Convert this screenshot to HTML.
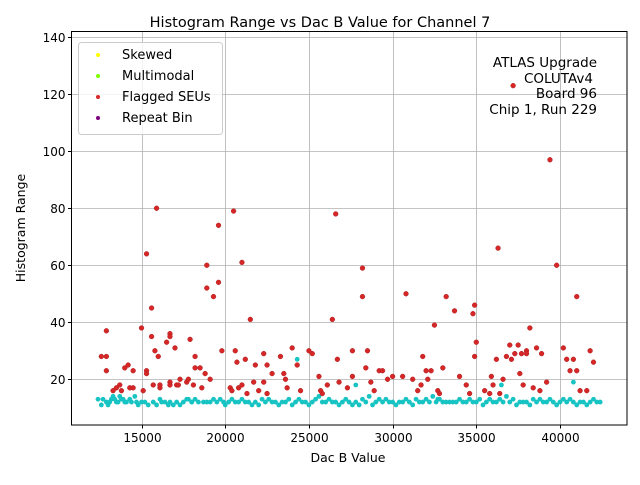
<!DOCTYPE html>
<html><head><meta charset="utf-8"><style>
body{margin:0;background:#fff}
svg{font-family:"DejaVu Sans","Liberation Sans",sans-serif}
</style></head><body>
<svg id="chart" width="640" height="480" viewBox="0 0 640 480">
<rect width="640" height="480" fill="#fff"/>
<text x="320" y="27" font-size="14.5" text-anchor="middle">Histogram Range vs Dac B Value for Channel 7</text>
<g id="grid"></g>
<g id="pts"></g>
<rect x="71.5" y="31.5" width="555.5" height="393.5" fill="none" stroke="#000" stroke-width="1"/>
<g id="ticks"></g>
<text x="348" y="462" font-size="12.5" text-anchor="middle">Dac B Value</text>
<text transform="translate(25,228) rotate(-90)" font-size="12.5" text-anchor="middle">Histogram Range</text>
<g>
<rect x="78.5" y="42.5" width="144" height="92" rx="3" fill="#fff" fill-opacity="0.8" stroke="#ccc"/>
<g><circle cx="98" cy="55" r="2" fill="#ffff00"/><text x="122" y="59" font-size="13">Skewed</text></g>
<g><circle cx="98" cy="76" r="2" fill="#7fff00"/><text x="122" y="80" font-size="13">Multimodal</text></g>
<g><circle cx="98" cy="97" r="2" fill="#d62728"/><text x="122" y="101" font-size="13">Flagged SEUs</text></g>
<g><circle cx="98" cy="118" r="2" fill="#800080"/><text x="122" y="122" font-size="13">Repeat Bin</text></g>
</g>
<g font-size="13.5" text-anchor="end">
<text x="597" y="67">ATLAS Upgrade</text>
<text x="593" y="83">COLUTAv4</text>
<text x="597" y="98">Board 96</text>
<text x="597" y="114">Chip 1, Run 229</text>
</g>
</svg>
<script>
const xTicks=[15000,20000,25000,30000,35000,40000];
const yTicks=[20,40,60,80,100,120,140];
const seuX=[12600,12900,12900,12900,13300,13500,13700,13800,14000,14200,14300,14500,14500,15000,15100,15300,15300,15300,15600,15600,15700,15800,15900,16000,16100,16100,16500,16700,16700,16700,16700,17000,17100,17200,17300,17700,17800,17900,18100,18200,18200,18500,18600,18800,18900,18900,19100,19300,19600,19600,19800,20300,20400,20500,20600,20700,20800,21000,21000,21200,21300,21500,21700,21800,22000,22300,22300,22500,22500,22800,23300,23500,23600,23700,24000,24300,24500,25000,25200,25600,25700,25800,26100,26400,26600,26700,26800,27300,27600,27600,28200,28200,28400,28500,28700,28900,29200,29400,29700,30000,30600,30800,31200,31500,31700,31800,32000,32100,32300,32500,32700,32800,33000,33200,33700,34000,34400,34800,34900,34900,35000,35500,35800,35900,36000,36200,36300,36600,36800,37000,37100,37200,37300,37500,37600,37700,37800,38000,38000,38200,38400,38600,38800,38900,39200,39400,39800,40200,40400,40600,40800,41000,41000,41600,41800,42000,34600,36400,41200];
const seuY=[28,28,37,23,16,17,18,16,24,25,17,17,23,38,16,64,23,22,35,45,18,30,80,28,17,18,33,36,35,19,18,31,18,18,20,19,20,34,18,28,24,24,17,22,60,52,20,49,74,54,30,17,16,79,30,26,17,61,18,27,15,41,19,25,16,19,29,25,15,22,28,22,20,17,31,25,16,30,29,21,16,15,18,41,78,27,19,17,30,21,59,49,24,30,19,16,23,23,20,21,21,50,20,16,18,28,23,20,23,39,16,15,24,49,44,21,18,43,46,28,33,16,15,21,18,27,66,20,28,32,27,123,29,32,22,29,18,30,29,38,17,31,16,29,19,97,60,31,27,23,27,49,23,16,30,26,15,15,16];
const okX=[12400,12600,12700,12900,13000,13100,13200,13300,13400,13500,13600,13700,13800,13900,14000,14100,14300,14400,14600,14700,14800,15000,15200,15400,15700,15900,16100,16200,16400,16600,16700,16900,17100,17300,17500,17700,17800,18000,18200,18400,18700,18900,19100,19300,19500,19700,19900,20000,20200,20400,20600,20800,21000,21200,21400,21600,21800,22000,22200,22400,22600,22800,23000,23200,23400,23600,23800,24000,24200,24400,24600,24800,25000,25200,25400,25600,25800,26000,26200,26400,26600,26800,27000,27200,27400,27600,27800,28000,28200,28400,28600,28800,29000,29200,29400,29600,29800,30000,30200,30400,30600,30800,31000,31200,31400,31600,31800,32000,32200,32400,32600,32800,33000,33200,33400,33600,33800,34000,34200,34400,34600,34800,35000,35200,35400,35600,35800,36000,36200,36400,36600,36800,37000,37200,37400,37600,37800,38000,38200,38400,38600,38800,39000,39200,39400,39600,39800,40000,40200,40400,40600,40800,41000,41200,41400,41600,41800,42000,42200,42400,18000,24300,27800,40800,36500,32700,22500];
const okY=[13,11,13,12,11,12,13,14,13,12,12,14,13,13,12,12,13,12,14,12,11,12,12,11,12,11,13,12,12,11,12,11,12,11,12,13,13,12,13,12,12,12,12,13,12,13,12,11,12,13,12,12,13,12,12,11,12,11,13,12,13,12,12,11,12,12,13,11,12,13,12,12,11,12,13,14,12,12,13,12,12,11,12,13,12,11,12,11,13,12,14,11,12,13,12,13,12,12,11,12,12,13,12,11,13,12,12,13,12,14,12,13,12,12,12,12,12,13,12,12,13,12,12,13,11,12,13,12,12,13,12,14,12,13,11,12,12,12,11,13,12,13,12,12,13,12,11,12,13,12,13,12,11,12,12,11,12,13,12,12,12,27,18,19,18,13,15,15];
const X0=71.5,X1=627,Y0=425,Y1=31.5;
const xmin=10817,xmax=44003,ymin=3.96,ymax=142;
function sx(v){return X0+(v-xmin)/(xmax-xmin)*(X1-X0);}
function sy(v){return Y0-(v-ymin)/(ymax-ymin)*(Y0-Y1);}
const NS='http://www.w3.org/2000/svg';
const grid=document.getElementById('grid'),ticks=document.getElementById('ticks'),pts=document.getElementById('pts');
function mk(tag,attrs,parent){const e=document.createElementNS(NS,tag);for(const k in attrs)e.setAttribute(k,attrs[k]);parent.appendChild(e);return e;}
xTicks.forEach(t=>{const x=Math.round(sx(t))+0.5;
 const g=mk('line',{x1:x,x2:x,y1:Y1,y2:Y0,stroke:'#b0b0b0','stroke-width':0.8},grid);
 
 
 mk('line',{x1:x,x2:x,y1:Y0,y2:Y0+3.5,stroke:'#000'},ticks);
 const tx=mk('text',{x:x,y:Y0+17,'font-size':12,'text-anchor':'middle'},ticks);tx.textContent=t;
 
 });
yTicks.forEach(t=>{const y=Math.round(sy(t))+0.5;
 const g=mk('line',{x1:X0,x2:X1,y1:y,y2:y,stroke:'#b0b0b0','stroke-width':0.8},grid);
 
 
 mk('line',{x1:X0-3.5,x2:X0,y1:y,y2:y,stroke:'#000'},ticks);
 const tx=mk('text',{x:X0-6,y:y+4.5,'font-size':12,'text-anchor':'end'},ticks);tx.textContent=t;
 
 });
okX.forEach((v,i)=>{const c=mk('circle',{cx:sx(v),cy:sy(okY[i]),r:2.4,fill:'#17c3c3'},pts);
 
 });
seuX.forEach((v,i)=>{const c=mk('circle',{cx:sx(v),cy:sy(seuY[i]),r:2.4,fill:'#d62728',stroke:'#b02020','stroke-width':0.5},pts);
 
 });
</script>
</body></html>
